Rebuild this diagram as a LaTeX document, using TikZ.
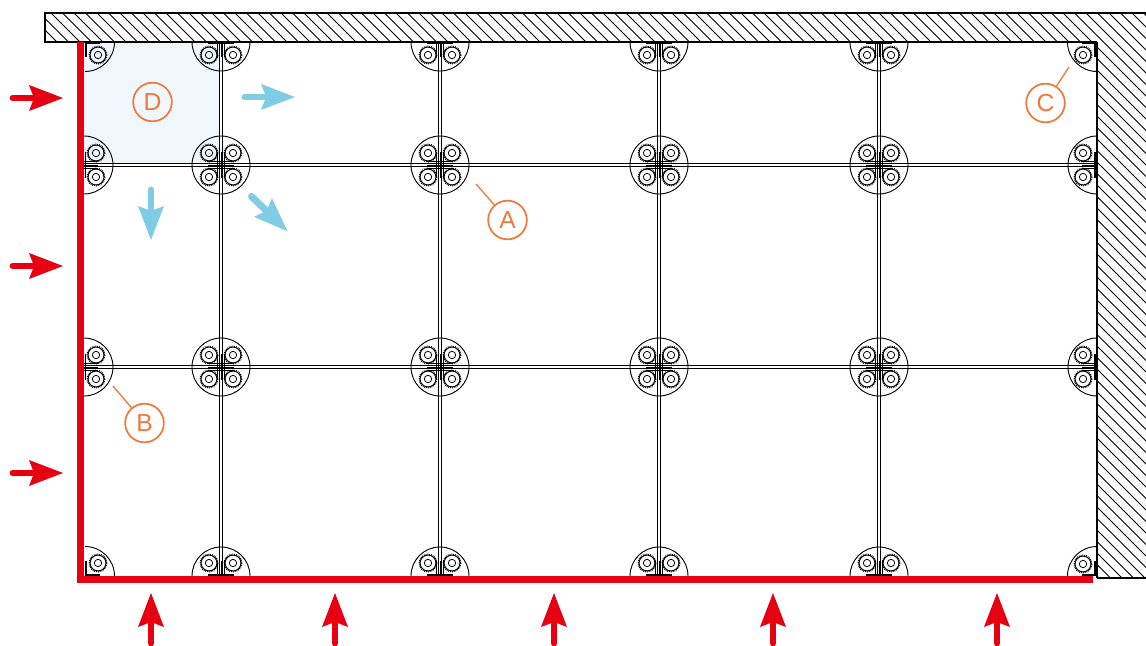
\documentclass[tikz,border=0pt]{standalone}
\usepackage{fontspec}
\setmainfont{Liberation Sans}
\definecolor{redc}{HTML}{E60012}
\definecolor{bluec}{HTML}{7FCDE4}
\definecolor{orangec}{HTML}{F0793C}
\definecolor{panelc}{HTML}{EFF7FC}
\tikzset{
  thinl/.style={black,line width=0.7pt},
  barl/.style={black,line width=1.1pt},
  hatchl/.style={black,line width=0.6pt},
  wall/.style={black,line width=0.9pt},
  redline/.style={draw=redc,line width=5.25pt},
  lab/.style={circle,draw=orangec,line width=1.3pt,minimum size=29pt,inner sep=0pt,text=orangec,font=\fontsize{18.5}{18.5}\selectfont},
  leader/.style={orangec,line width=1pt},
}
\newcommand{\gearat}[2]{%
  \draw[black,line width=0.8pt,dash pattern=on 0.7pt off 0.7pt] (#1,#2) circle[radius=8.9];
  \draw[thinl] (#1,#2) circle[radius=7.9];
  \draw[thinl,line width=0.6pt] (#1,#2) circle[radius=3.7];
}
\newcommand{\arrowshape}[4]{% x y rotation colour: points along +x, tip at (52,0)
  \begin{scope}[shift={(#1,#2)},rotate=#3]
    \draw[#4,line width=5.2pt,line cap=round] (2,0) -- (30,0);
    \fill[#4] (52,0) -- (18,-13) -- (23,0) -- (18,13) -- cycle;
  \end{scope}
}
\begin{document}
\begin{tikzpicture}[x=0.75pt,y=-0.75pt]
\useasboundingbox (0,0) rectangle (1146,646);
% panel D
\fill[panelc] (84,42) rectangle (219.5,163.5);
% hatching
\begin{scope}
  \clip (45,13) -- (1146,13) -- (1146,578) -- (1097,578) -- (1097,42) -- (45,42) -- cycle;
  \foreach \s in {-560,-548.5,...,1140} {
    \draw[hatchl] (\s,0) -- ++(650,650);
  }
\end{scope}
\draw[wall] (1146,13) -- (45,13) -- (45,42) -- (1097,42);
\draw[wall] (1097,578) -- (1146,578);
\draw[black,line width=1.3pt] (1097,42) -- (1097,578);
% mullions
\foreach \x in {221,440,659,879} {
  \draw[thinl] (\x-1.9,42) -- (\x-1.9,577);
  \draw[thinl] (\x+1.9,42) -- (\x+1.9,577);
}
\foreach \y in {165,367} {
  \draw[thinl] (84,\y-1.9) -- (1097,\y-1.9);
  \draw[thinl] (84,\y+1.9) -- (1097,\y+1.9);
}
% interior joints
\foreach \x in {221,440,659,879} {
  \foreach \y in {165,367} {
    \draw[thinl] (\x,\y) circle[radius=29];
    \foreach \dx in {-12,12} { \foreach \dy in {-12,12} { \gearat{\x+\dx}{\y+\dy} } }
    \draw[thinl] (\x-13,\y) -- (\x+13,\y);
    \draw[thinl] (\x,\y-13) -- (\x,\y+13);
    \draw[thinl] (\x-13,\y-3.2) -- (\x+13,\y-3.2);
    \draw[thinl] (\x-13,\y+3.2) -- (\x+13,\y+3.2);
    \draw[thinl] (\x-3.2,\y-13) -- (\x-3.2,\y+13);
    \draw[thinl] (\x+3.2,\y-13) -- (\x+3.2,\y+13);
  }
}
% top and bottom joints
\foreach \x in {221,440,659,879} {
  \begin{scope}
    \clip (\x-32,42) rectangle (\x+32,80);
    \draw[thinl] (\x,42) circle[radius=29];
  \end{scope}
  \begin{scope}
    \clip (\x-32,540) rectangle (\x+32,576);
    \draw[thinl] (\x,576) circle[radius=29];
  \end{scope}
  \gearat{\x-12}{55} \gearat{\x+12}{55}
  \gearat{\x-12}{563} \gearat{\x+12}{563}
  \draw[barl] (\x-13,43) -- (\x+13,43);
  \draw[barl] (\x-13,575) -- (\x+13,575);
  \draw[thinl] (\x-3.2,43) -- (\x-3.2,57);
  \draw[thinl] (\x+3.2,43) -- (\x+3.2,57);
  \draw[thinl] (\x,43) -- (\x,57);
  \draw[thinl] (\x-3.2,561) -- (\x-3.2,575);
  \draw[thinl] (\x+3.2,561) -- (\x+3.2,575);
  \draw[thinl] (\x,561) -- (\x,575);
}
% left and right joints
\foreach \y in {165,367} {
  \begin{scope}
    \clip (84,\y-32) rectangle (120,\y+32);
    \draw[thinl] (84,\y) circle[radius=29];
  \end{scope}
  \begin{scope}
    \clip (1060,\y-32) rectangle (1097,\y+32);
    \draw[thinl] (1097,\y) circle[radius=29];
  \end{scope}
  \gearat{96}{\y-12} \gearat{96}{\y+12}
  \gearat{1083}{\y-12} \gearat{1083}{\y+12}
  \draw[thinl] (84,\y) -- (98,\y);
  \draw[thinl] (84,\y-3.2) -- (98,\y-3.2);
  \draw[thinl] (84,\y+3.2) -- (98,\y+3.2);
  \draw[barl] (85.5,\y-13) -- (85.5,\y+13);
  \draw[thinl] (1082,\y) -- (1096,\y);
  \draw[thinl] (1082,\y-3.2) -- (1096,\y-3.2);
  \draw[thinl] (1082,\y+3.2) -- (1096,\y+3.2);
  \draw[barl] (1095,\y-13) -- (1095,\y+13);
}
% corner joints
\begin{scope}
  \clip (85,42) rectangle (120,80);
  \draw[thinl] (85,42) circle[radius=29.5];
\end{scope}
\begin{scope}
  \clip (85,540) rectangle (120,576);
  \draw[thinl] (85,576) circle[radius=29.5];
\end{scope}
\begin{scope}
  \clip (1060,42) rectangle (1097,80);
  \draw[thinl] (1097,42) circle[radius=29.5];
\end{scope}
\begin{scope}
  \clip (1060,540) rectangle (1097,576);
  \draw[thinl] (1097,576) circle[radius=29.5];
\end{scope}
\gearat{98}{55} \gearat{98}{563} \gearat{1083}{55} \gearat{1083}{564}
\draw[barl] (86,57) -- (86,43) -- (100,43);
\draw[barl] (86,561) -- (86,575) -- (100,575);
\draw[barl] (1095,57) -- (1095,43) -- (1082,43);
\draw[barl] (1095,561) -- (1095,575) -- (1082,575);
% red edges
\draw[redline,line join=miter] (80.5,42) -- (80.5,579.5) -- (1093,579.5);
% red arrows
\foreach \y in {98,266,473} { \arrowshape{11}{\y}{0}{redc} }
\foreach \x in {151,335,554,773,997} { \arrowshape{\x}{645}{90}{redc} }
% blue arrows
\arrowshape{243}{97}{0}{bluec}
\arrowshape{151}{188}{-90}{bluec}
\arrowshape{250}{195}{-44}{bluec}
% labels
\node[lab] (labA) at (507.5,220) {A};
\node[lab] (labB) at (144.5,423) {B};
\node[lab] (labC) at (1045.5,103) {C};
\node[lab] (labD) at (152.5,102) {D};
\coordinate (endA) at (476,184);
\coordinate (endB) at (113,386);
\coordinate (endC) at (1069,67);
\draw[leader] (endA) -- (labA);
\draw[leader] (endB) -- (labB);
\draw[leader] (endC) -- (labC);
\end{tikzpicture}
\end{document}
